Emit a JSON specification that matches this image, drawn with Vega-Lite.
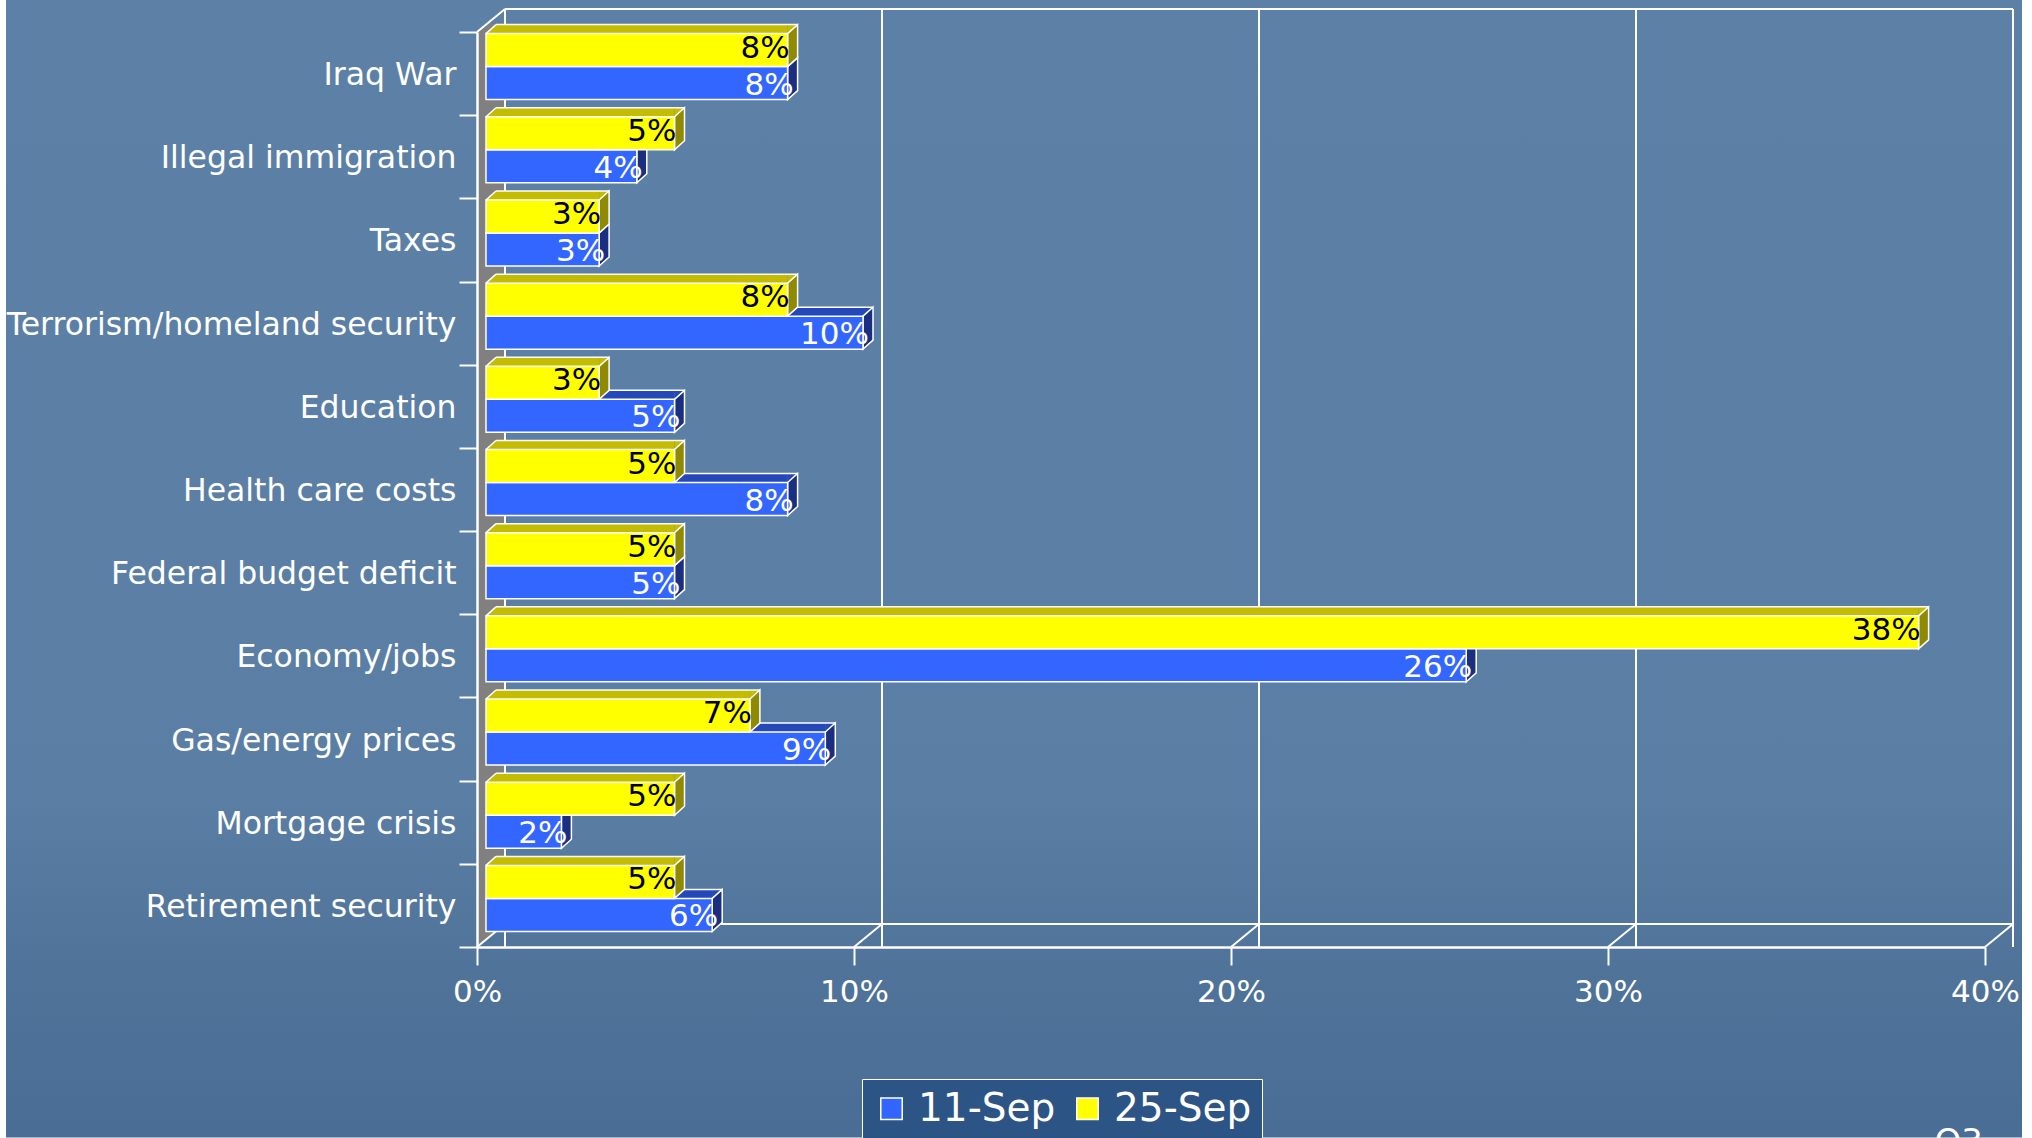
{"$schema":"https://vega.github.io/schema/vega-lite/v6.json","autosize":"none","width":1508,"height":915,"padding":{"left":477,"top":32,"right":47,"bottom":191},"background":"#ffffff",
"config":{"view":{"stroke":null},"text":{"font":"DejaVu Sans"},"legend":{"labelFont":"DejaVu Sans"},"axis":{"labelFont":"DejaVu Sans"}},
"datasets":{"rows":[
{"cat":"Iraq War","series":"11-Sep","start":0,"value":0.08},{"cat":"Iraq War","series":"25-Sep","start":0,"value":0.08},
{"cat":"Illegal immigration","series":"11-Sep","start":0,"value":0.04},{"cat":"Illegal immigration","series":"25-Sep","start":0,"value":0.05},
{"cat":"Taxes","series":"11-Sep","start":0,"value":0.03},{"cat":"Taxes","series":"25-Sep","start":0,"value":0.03},
{"cat":"Terrorism/homeland security","series":"11-Sep","start":0,"value":0.10},{"cat":"Terrorism/homeland security","series":"25-Sep","start":0,"value":0.08},
{"cat":"Education","series":"11-Sep","start":0,"value":0.05},{"cat":"Education","series":"25-Sep","start":0,"value":0.03},
{"cat":"Health care costs","series":"11-Sep","start":0,"value":0.08},{"cat":"Health care costs","series":"25-Sep","start":0,"value":0.05},
{"cat":"Federal budget deficit","series":"11-Sep","start":0,"value":0.05},{"cat":"Federal budget deficit","series":"25-Sep","start":0,"value":0.05},
{"cat":"Economy/jobs","series":"11-Sep","start":0,"value":0.26},{"cat":"Economy/jobs","series":"25-Sep","start":0,"value":0.38},
{"cat":"Gas/energy prices","series":"11-Sep","start":0,"value":0.09},{"cat":"Gas/energy prices","series":"25-Sep","start":0,"value":0.07},
{"cat":"Mortgage crisis","series":"11-Sep","start":0,"value":0.02},{"cat":"Mortgage crisis","series":"25-Sep","start":0,"value":0.05},
{"cat":"Retirement security","series":"11-Sep","start":0,"value":0.06},{"cat":"Retirement security","series":"25-Sep","start":0,"value":0.05}],
"ticks":[{"v":0,"cat":"Retirement security"},{"v":0.1,"cat":"Retirement security"},{"v":0.2,"cat":"Retirement security"},{"v":0.3,"cat":"Retirement security"},{"v":0.4,"cat":"Retirement security"}],
"first":[{"v":0,"w":0.4,"cat":"Iraq War"}],
"last":[{"v":0,"w":0.4,"cat":"Retirement security"}]},
"layer":[
{"data":{"name":"first"},"mark":{"type":"point","filled":true,"opacity":1,"size":4,"strokeWidth":0,"shape":"M-471,-74L1545,-74L1545,1064L-471,1064Z","fill":{"gradient":"linear","x1":0,"y1":0,"x2":0,"y2":1,"stops":[{"offset":0,"color":"#5c80a6"},{"offset":0.7,"color":"#5a7ea4"},{"offset":0.85,"color":"#4f7399"},{"offset":1,"color":"#4a6d95"}]}},
 "encoding":{"x":{"field":"v","type":"quantitative","scale":{"domain":[0,0.4],"nice":false,"zero":false},"axis":{"zindex":1,"title":null,"values":[0,0.1,0.2,0.3,0.4],"format":".0%","domainColor":"#ffffff","domainWidth":2.5,"tickColor":"#ffffff","tickWidth":2,"tickSize":18,"labelColor":"#ffffff","labelFontSize":31,"labelPadding":12,"labelFlush":false,"labelBound":false,"labelOverlap":false,"grid":false}},
 "y":{"field":"cat","type":"nominal","sort":null,"scale":{"type":"band","paddingInner":0,"paddingOuter":0,"domain":["Iraq War","Illegal immigration","Taxes","Terrorism/homeland security","Education","Health care costs","Federal budget deficit","Economy/jobs","Gas/energy prices","Mortgage crisis","Retirement security"]},"axis":{"zindex":1,"title":null,"domainColor":"#ffffff","domainWidth":2.5,"tickColor":"#ffffff","tickWidth":2,"tickSize":18,"tickBand":"extent","tickExtra":true,"labelColor":"#ffffff","labelFontSize":31.5,"labelPadding":3,"labelOffset":2,"labelLimit":600,"grid":false}}}},
{"data":{"name":"first"},"mark":{"type":"point","filled":true,"opacity":1,"size":4,"strokeWidth":0,"fill":"#808080","shape":"M0,-41.6L10,-50L28,-50L28,850L0,873.4Z"},"encoding":{"x":{"field":"v","type":"quantitative"},"y":{"field":"cat","type":"nominal","sort":null}}},
{"data":{"name":"ticks"},"mark":{"type":"rule","color":"#ffffff","strokeWidth":2,"xOffset":28,"yOffset":-23},"encoding":{"x":{"field":"v","type":"quantitative"}}},
{"data":{"name":"first"},"mark":{"type":"rule","color":"#ffffff","strokeWidth":2,"xOffset":28,"x2Offset":28,"yOffset":-23},"encoding":{"x":{"field":"v","type":"quantitative"},"x2":{"field":"w"},"y":{"field":"cat","type":"nominal","sort":null,"bandPosition":0}}},
{"data":{"name":"last"},"mark":{"type":"rule","color":"#ffffff","strokeWidth":2,"xOffset":28,"x2Offset":28,"yOffset":-23},"encoding":{"x":{"field":"v","type":"quantitative"},"x2":{"field":"w"},"y":{"field":"cat","type":"nominal","sort":null,"bandPosition":1}}},
{"data":{"name":"ticks"},"mark":{"type":"point","filled":false,"opacity":1,"size":4,"stroke":"#ffffff","strokeWidth":2,"shape":"M0,0L28,-23"},"encoding":{"x":{"field":"v","type":"quantitative"},"y":{"field":"cat","type":"nominal","sort":null,"bandPosition":1}}},
{"data":{"name":"first"},"mark":{"type":"point","filled":false,"opacity":1,"size":4,"stroke":"#ffffff","strokeWidth":2,"shape":"M0,0L28,-23"},"encoding":{"x":{"field":"v","type":"quantitative"},"y":{"field":"cat","type":"nominal","sort":null,"bandPosition":0}}},

{"data":{"name":"rows"},"transform":[{"filter":"datum.series==='11-Sep'"}],"mark":{"type":"bar","orient":"horizontal","fill":"#2448b8","height":9,"yOffset":-11.5,"xOffset":9,"x2Offset":19},"encoding":{"x":{"field":"value","type":"quantitative","stack":null},"x2":{"field":"start"},"y":{"field":"cat","type":"nominal","sort":null}}},
{"data":{"name":"rows"},"transform":[{"filter":"datum.series==='11-Sep'"}],"mark":{"type":"point","filled":true,"opacity":1,"size":4,"strokeWidth":0,"fill":"#2448b8","shape":"M9,-7L19,-16L19,-7Z"},"encoding":{"x":{"field":"start","type":"quantitative"},"y":{"field":"cat","type":"nominal","sort":null}}},
{"data":{"name":"rows"},"transform":[{"filter":"datum.series==='11-Sep'"}],"mark":{"type":"point","filled":true,"opacity":1,"size":4,"strokeWidth":0,"fill":"#2448b8","shape":"M9,-7L19,-16L9,-16Z"},"encoding":{"x":{"field":"value","type":"quantitative"},"y":{"field":"cat","type":"nominal","sort":null}}},
{"data":{"name":"rows"},"transform":[{"filter":"datum.series==='11-Sep'"}],"mark":{"type":"point","filled":true,"opacity":1,"size":4,"stroke":"#ffffff","strokeWidth":1.5,"fill":"#1a2f80","shape":"M9,-7L19,-16L19,17L9,26Z"},"encoding":{"x":{"field":"value","type":"quantitative"},"y":{"field":"cat","type":"nominal","sort":null}}},
{"data":{"name":"rows"},"transform":[{"filter":"datum.series==='11-Sep'"}],"mark":{"type":"rule","color":"#ffffff","strokeWidth":1.5,"xOffset":19,"x2Offset":19,"yOffset":-16},"encoding":{"x":{"field":"start","type":"quantitative"},"x2":{"field":"value"},"y":{"field":"cat","type":"nominal","sort":null}}},
{"data":{"name":"rows"},"transform":[{"filter":"datum.series==='11-Sep'"}],"mark":{"type":"point","filled":false,"opacity":1,"size":4,"stroke":"#ffffff","strokeWidth":1.5,"shape":"M9,-7L19,-16"},"encoding":{"x":{"field":"start","type":"quantitative"},"y":{"field":"cat","type":"nominal","sort":null}}},

{"data":{"name":"rows"},"transform":[{"filter":"datum.series==='25-Sep'"}],"mark":{"type":"bar","orient":"horizontal","fill":"#c4bc00","height":9,"yOffset":-44.5,"xOffset":9,"x2Offset":19},"encoding":{"x":{"field":"value","type":"quantitative","stack":null},"x2":{"field":"start"},"y":{"field":"cat","type":"nominal","sort":null}}},
{"data":{"name":"rows"},"transform":[{"filter":"datum.series==='25-Sep'"}],"mark":{"type":"point","filled":true,"opacity":1,"size":4,"strokeWidth":0,"fill":"#c4bc00","shape":"M9,-40L19,-49L19,-40Z"},"encoding":{"x":{"field":"start","type":"quantitative"},"y":{"field":"cat","type":"nominal","sort":null}}},
{"data":{"name":"rows"},"transform":[{"filter":"datum.series==='25-Sep'"}],"mark":{"type":"point","filled":true,"opacity":1,"size":4,"strokeWidth":0,"fill":"#c4bc00","shape":"M9,-40L19,-49L9,-49Z"},"encoding":{"x":{"field":"value","type":"quantitative"},"y":{"field":"cat","type":"nominal","sort":null}}},
{"data":{"name":"rows"},"transform":[{"filter":"datum.series==='25-Sep'"}],"mark":{"type":"point","filled":true,"opacity":1,"size":4,"stroke":"#ffffff","strokeWidth":1.5,"fill":"#8f8a00","shape":"M9,-40L19,-49L19,-16L9,-7Z"},"encoding":{"x":{"field":"value","type":"quantitative"},"y":{"field":"cat","type":"nominal","sort":null}}},
{"data":{"name":"rows"},"transform":[{"filter":"datum.series==='25-Sep'"}],"mark":{"type":"rule","color":"#ffffff","strokeWidth":1.5,"xOffset":19,"x2Offset":19,"yOffset":-49},"encoding":{"x":{"field":"start","type":"quantitative"},"x2":{"field":"value"},"y":{"field":"cat","type":"nominal","sort":null}}},
{"data":{"name":"rows"},"transform":[{"filter":"datum.series==='25-Sep'"}],"mark":{"type":"point","filled":false,"opacity":1,"size":4,"stroke":"#ffffff","strokeWidth":1.5,"shape":"M9,-40L19,-49"},"encoding":{"x":{"field":"start","type":"quantitative"},"y":{"field":"cat","type":"nominal","sort":null}}},

{"data":{"name":"rows"},"transform":[{"filter":"datum.series==='11-Sep'"}],"mark":{"type":"bar","orient":"horizontal","height":33,"yOffset":9.5,"xOffset":9,"x2Offset":9,"stroke":"#ffffff","strokeWidth":1.5},"encoding":{"x":{"field":"value","type":"quantitative","stack":null},"x2":{"field":"start"},"y":{"field":"cat","type":"nominal","sort":null},"fill":{"field":"series","type":"nominal","scale":{"domain":["11-Sep","25-Sep"],"range":["#3366ff","#ffff00"]},"legend":{"zindex":1,"orient":"none","legendX":385,"legendY":1047,"direction":"horizontal","columns":2,"title":null,"fillColor":"#2c5484","strokeColor":"#ffffff","padding":10,"labelColor":"#ffffff","labelFontSize":39,"labelFontWeight":"normal","symbolType":"square","symbolSize":460,"symbolStrokeColor":"#ffffff","symbolStrokeWidth":1.5,"symbolOpacity":1,"columnPadding":12,"labelOffset":7,"labelLimit":200}}}},
{"data":{"name":"rows"},"transform":[{"filter":"datum.series==='25-Sep'"}],"mark":{"type":"bar","orient":"horizontal","height":33,"yOffset":-23.5,"xOffset":9,"x2Offset":9,"stroke":"#ffffff","strokeWidth":1.5},"encoding":{"x":{"field":"value","type":"quantitative","stack":null},"x2":{"field":"start"},"y":{"field":"cat","type":"nominal","sort":null},"fill":{"field":"series","type":"nominal"}}},
{"data":{"name":"rows"},"transform":[{"filter":"datum.series==='11-Sep'"}],"mark":{"type":"text","color":"#ffffff","fontSize":31,"align":"right","baseline":"middle","dx":15,"yOffset":12},"encoding":{"x":{"field":"value","type":"quantitative"},"y":{"field":"cat","type":"nominal","sort":null},"text":{"field":"value","type":"quantitative","format":".0%"}}},
{"data":{"name":"rows"},"transform":[{"filter":"datum.series==='25-Sep'"}],"mark":{"type":"text","color":"#000000","fontSize":31,"align":"right","baseline":"middle","dx":11,"yOffset":-25},"encoding":{"x":{"field":"value","type":"quantitative"},"y":{"field":"cat","type":"nominal","sort":null},"text":{"field":"value","type":"quantitative","format":".0%"}}},
{"data":{"values":[{"v":0.4,"cat":"Retirement security","t":"Q3"}]},"mark":{"type":"text","color":"#ffffff","fontSize":34,"align":"right","baseline":"alphabetic","dx":-2,"yOffset":248},"encoding":{"x":{"field":"v","type":"quantitative"},"y":{"field":"cat","type":"nominal","sort":null},"text":{"field":"t","type":"nominal"}}}
]}
